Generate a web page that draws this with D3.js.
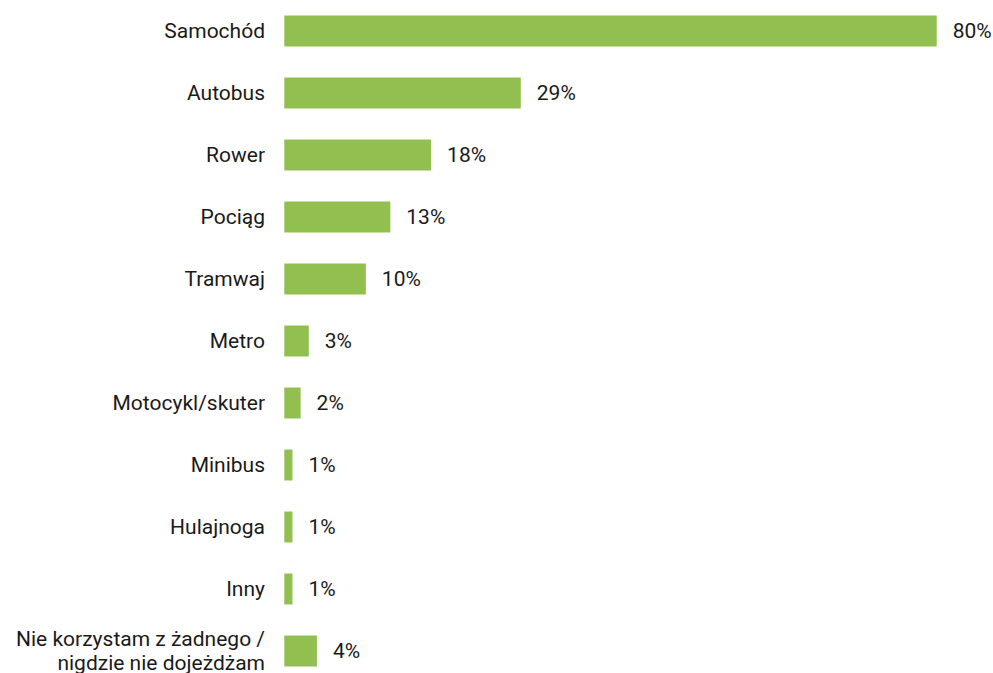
<!DOCTYPE html>
<html>
<head>
<meta charset="utf-8">
<script src="https://cdn.jsdelivr.net/npm/d3@7"></script>
<style>
  html, body { margin: 0; padding: 0; background: #ffffff; }
  svg { display: block; }
  text { font-family: Roboto, "Noto Sans", sans-serif; }
</style>
</head>
<body>
<svg id="chart" width="993" height="673"></svg>
<script>
const categories = [
  "Samochód", "Autobus", "Rower", "Pociąg", "Tramwaj", "Metro",
  "Motocykl/skuter", "Minibus", "Hulajnoga", "Inny",
  "Nie korzystam z żadnego /\nnigdzie nie dojeżdżam"
];
const values = [80, 29, 18, 13, 10, 3, 2, 1, 1, 1, 4];
const valueLabels = ["80%", "29%", "18%", "13%", "10%", "3%", "2%", "1%", "1%", "1%", "4%"];

const svg = d3.select("#chart");
const x0 = 284.3;
const x = d3.scaleLinear().domain([0, 80]).range([x0, 936.7]);
const y = d3.scaleBand().domain(categories).range([0, 682]).paddingInner(0.5).paddingOuter(0.25);

const color = "#92c050";
const fs = 21;

svg.selectAll("rect.bar")
  .data(values)
  .join("rect")
  .attr("class", "bar")
  .attr("x", x(0))
  .attr("y", (d, i) => y(categories[i]))
  .attr("width", d => x(d) - x(0))
  .attr("height", y.bandwidth())
  .attr("fill", color);

svg.selectAll("text.val")
  .data(values)
  .join("text")
  .attr("class", "val")
  .attr("x", d => x(d) + 16)
  .attr("y", (d, i) => y(categories[i]) + y.bandwidth() / 2)
  .attr("dy", "0.35em")
  .attr("font-size", fs)
  .attr("fill", "#1a1a1a")
  .text((d, i) => valueLabels[i]);

const labels = svg.selectAll("text.cat")
  .data(categories)
  .join("text")
  .attr("class", "cat")
  .attr("text-anchor", "end")
  .attr("font-size", fs)
  .attr("fill", "#1a1a1a");

labels.each(function(d) {
  const lines = d.split("\n");
  const cy = y(d) + y.bandwidth() / 2;
  const lh = 24;
  const t = d3.select(this);
  lines.forEach((ln, k) => {
    t.append("tspan")
      .attr("x", 265)
      .attr("y", cy + (k - (lines.length - 1) / 2) * lh)
      .attr("dy", "0.35em")
      .text(ln);
  });
});
</script>
</body>
</html>
